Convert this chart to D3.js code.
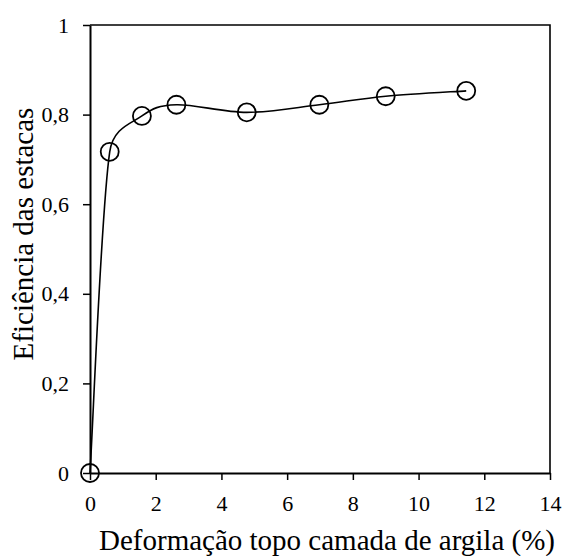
<!DOCTYPE html>
<html>
<head>
<meta charset="utf-8">
<script src="https://cdn.jsdelivr.net/npm/d3@7"></script>
<style>
  body { margin: 0; background: #fff; }
  svg { display: block; }
  svg text { font-family: "Liberation Serif", "Times New Roman", serif !important; fill: #000; }
</style>
</head>
<body>
<svg id="chart" width="563" height="556"></svg>
<script>
// deformation at the top of the clay layer (%) vs pile efficiency
const deformacao = [0, 0.6, 1.58, 2.63, 4.77, 6.98, 9.0, 11.45]
const eficiencia = [0, 0.717, 0.797, 0.822, 0.805, 0.822, 0.841, 0.853]
const xTicks = [0, 2, 4, 6, 8, 10, 12, 14]
const yTicks = [0, 0.2, 0.4, 0.6, 0.8, 1]

const data = deformacao.map((d, i) => ({x: d, y: eficiencia[i]}))

const svg = d3.select('#chart')
const m = {left: 90, top: 25, right: 550, bottom: 473}

const x = d3.scaleLinear().domain([0, 14]).range([m.left, m.right])
const y = d3.scaleLinear().domain([0, 1]).range([m.bottom, m.top])

const fmt = d => d3.format('~g')(d).replace('.', ',')

// spreadsheet-like smoothing: bezier handles = 1/6 of neighbour chord, capped at half the segment
const smoothCurve = context => {
    let pts = []
    return {
        areaStart() {}, areaEnd() {},
        lineStart() { pts = [] },
        point(px, py) { pts.push([+px, +py]) },
        lineEnd() {
            const n = pts.length
            if (!n) return
            context.moveTo(pts[0][0], pts[0][1])
            for (let i = 0; i < n - 1; i++) {
                const p0 = pts[Math.max(i - 1, 0)], p1 = pts[i], p2 = pts[i + 1], p3 = pts[Math.min(i + 2, n - 1)]
                const seg = Math.hypot(p2[0] - p1[0], p2[1] - p1[1])
                const handle = (a, b) => {
                    let tx = (b[0] - a[0]) / 6, ty = (b[1] - a[1]) / 6
                    const l = Math.hypot(tx, ty)
                    if (l > seg / 2) { tx *= seg / 2 / l; ty *= seg / 2 / l }
                    return [tx, ty]
                }
                const t1 = handle(p0, p2), t2 = handle(p1, p3)
                context.bezierCurveTo(p1[0] + t1[0], p1[1] + t1[1], p2[0] - t2[0], p2[1] - t2[1], p2[0], p2[1])
            }
        }
    }
}

// frame top + right
svg.append('path')
    .attr('d', `M${m.left},${m.top}H${m.right}V${m.bottom}`)
    .attr('fill', 'none').attr('stroke', '#000').attr('stroke-width', 1.6)

const xAxis = svg.append('g')
    .attr('transform', `translate(0,${m.bottom})`)
    .call(d3.axisBottom(x).tickValues(xTicks).tickFormat(fmt).tickSize(7).tickSizeOuter(0).tickPadding(15))
const yAxis = svg.append('g')
    .attr('transform', `translate(${m.left},0)`)
    .call(d3.axisLeft(y).tickValues(yTicks).tickFormat(fmt).tickSize(7).tickSizeOuter(0).tickPadding(14))

for (const ax of [xAxis, yAxis]) {
    ax.select('.domain').attr('stroke-width', 2)
    ax.selectAll('.tick line').attr('stroke-width', 1.5)
    ax.selectAll('.tick text').attr('font-size', 22)
}

const line = d3.line().x(d => x(d.x)).y(d => y(d.y)).curve(smoothCurve)
svg.append('path').datum(data)
    .attr('d', line)
    .attr('fill', 'none').attr('stroke', '#000').attr('stroke-width', 1.6)

svg.append('g').selectAll('circle').data(data).join('circle')
    .attr('cx', d => x(d.x)).attr('cy', d => y(d.y)).attr('r', 9)
    .attr('fill', 'none').attr('stroke', '#000').attr('stroke-width', 1.8)

svg.append('text')
    .attr('x', 327).attr('y', 550)
    .attr('text-anchor', 'middle').attr('font-size', 29)
    .text('Deformação topo camada de argila (%)')

svg.append('text')
    .attr('transform', 'translate(33,234) rotate(-90)')
    .attr('text-anchor', 'middle').attr('font-size', 29)
    .text('Eficiência das estacas')
</script>
</body>
</html>
